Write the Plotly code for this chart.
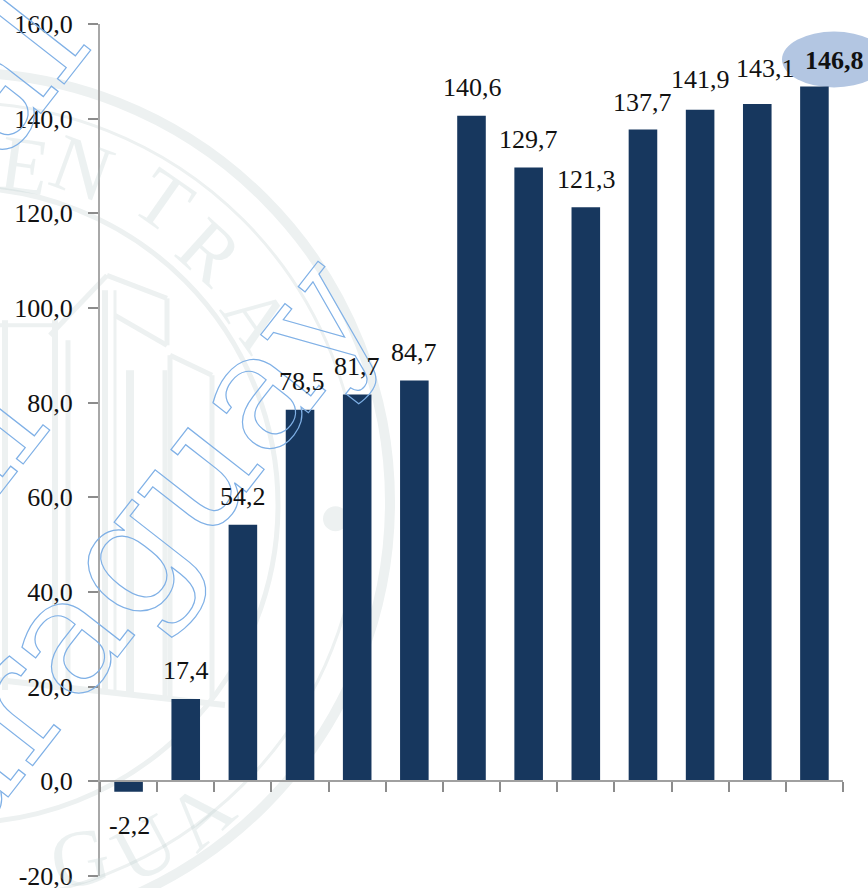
import plotly.graph_objects as go

# ---- data ----
periods = ["P01", "P02", "P03", "P04", "P05", "P06", "P07", "P08", "P09", "P10", "P11", "P12", "P13"]
values = [-2.2, 17.4, 54.2, 78.5, 81.7, 84.7, 140.6, 129.7, 121.3, 137.7, 141.9, 143.1, 146.8]
value_labels = ["-2,2", "17,4", "54,2", "78,5", "81,7", "84,7", "140,6", "129,7", "121,3", "137,7", "141,9", "143,1", "146,8"]
y_ticks = [-20, 0, 20, 40, 60, 80, 100, 120, 140, 160]
y_tick_labels = ["-20,0", "0,0", "20,0", "40,0", "60,0", "80,0", "100,0", "120,0", "140,0", "160,0"]
label_dx = [1, 0, 0, 2, 0, 0, 1, 0, 1, 0, 0, 8, 20]
label_dy = [-34, 28, 28, 28, 28, 28, 28, 28, 28, 27, 30, 35, 26]

W, H = 868, 895
L, R, T, B = 100, 25, 23.5, 19
PW, PH = W - L - R, H - T - B
SEAL = "#edf1f1"
SEAL_TEXT = "rgba(185,203,203,0.27)"
FONT = "Liberation Serif"


def px(x):
    return (x - L) / PW


def py(y):
    return (H - B - y) / PH


shapes = []


def ring(cx, cy, r, width, color=SEAL):
    shapes.append(dict(type="circle", xref="paper", yref="paper", layer="below",
                       x0=px(cx - r), x1=px(cx + r), y0=py(cy + r), y1=py(cy - r),
                       line=dict(color=color, width=width)))


def seg(x0, y0, x1, y1, width=5):
    shapes.append(dict(type="line", xref="paper", yref="paper", layer="below",
                       x0=px(x0), x1=px(x1), y0=py(y0), y1=py(y1),
                       line=dict(color=SEAL, width=width)))


# seal watermark
ring(-40, 502, 430, 10)
ring(-40, 502, 400, 3)
ring(-40, 505, 318, 5)
shapes.append(dict(type="circle", xref="paper", yref="paper", layer="below",
                   x0=px(323), x1=px(348), y0=py(531), y1=py(506),
                   fillcolor=SEAL, line=dict(width=0)))
for s in [
    (5, 320, 5, 690, 6), (55, 320, 55, 690, 6), (68, 340, 68, 690, 5), (105, 290, 105, 690, 6),
    (115, 290, 115, 690, 3), (130, 370, 130, 695, 8), (165, 370, 165, 700, 5), (170, 355, 170, 700, 5),
    (212, 375, 212, 700, 5), (50, 335, 107, 275, 5), (107, 275, 167, 298, 5), (167, 298, 167, 345, 5),
    (115, 315, 167, 345, 5), (170, 355, 212, 375, 5), (0, 680, 225, 705, 6), (0, 325, 55, 325, 4),
]:
    seg(*s)

annotations = []


def seal_letter(text, x, y, angle, size=80):
    annotations.append(dict(text=text, xref="paper", yref="paper", x=px(x), y=py(y),
                            xanchor="center", yanchor="middle", showarrow=False, textangle=angle,
                            font=dict(family=FONT, size=size, color=SEAL_TEXT)))


for t, x, y, a in [("E", 24, 165, 8), ("N", 82, 168, 20), ("T", 163, 200, 35), ("R", 210, 252, 42),
                   ("A", 257, 318, 55), ("A", 200, 815, -42), ("U", 145, 848, -28), ("G", 80, 858, -12)]:
    seal_letter(t, x, y, a)

# outlined diagonal watermark text
for t, x, y in [("Paraguay", 100, 587), ("Central", -185, 638), ("Central", -144, 258)]:
    annotations.append(dict(text=t, xref="paper", yref="paper", x=px(x), y=py(y),
                            xanchor="center", yanchor="middle", showarrow=False, textangle=-52,
                            font=dict(family="DejaVu Serif", size=165, color="rgba(255,255,255,0)")))

# value labels
for i, (p, v, lab) in enumerate(zip(periods, values, value_labels)):
    bold = i == len(values) - 1
    annotations.append(dict(text=f"<b>{lab}</b>" if bold else lab, x=p, y=v, xref="x", yref="y",
                            xanchor="center", yanchor="middle", showarrow=False,
                            xshift=label_dx[i], yshift=label_dy[i],
                            font=dict(family=FONT, size=26, color="#111111")))

# highlight oval
shapes.append(dict(type="circle", xref="paper", yref="paper", layer="below",
                   x0=px(782), x1=px(886), y0=py(87), y1=py(31),
                   fillcolor="#b3c6e2", line=dict(width=0)))

fig = go.Figure(go.Bar(x=periods, y=values, marker=dict(color="#17375e", line=dict(width=0)), width=0.5))
fig.update_layout(
    width=W, height=H, autosize=False,
    margin=dict(l=L, r=R, t=T, b=B, pad=0),
    paper_bgcolor="white", plot_bgcolor="rgba(0,0,0,0)",
    showlegend=False, shapes=shapes, annotations=annotations,
    font=dict(family=FONT, size=25, color="#111111"),
    xaxis=dict(type="category", categoryorder="array", categoryarray=periods, tickson="boundaries",
               range=[-0.5, len(periods) - 0.5], automargin=False,
               anchor="free", position=20 / 180, showline=True, linecolor="#a0a0a0", linewidth=2,
               ticks="outside", ticklen=10, tickcolor="#8c8c8c", tickwidth=1.5, showticklabels=False,
               showgrid=False, zeroline=False),
    yaxis=dict(range=[-20, 160], tickmode="array", tickvals=y_ticks, ticktext=y_tick_labels, automargin=False,
               showline=True, linecolor="#a8a8a8", linewidth=2, ticks="outside", ticklen=10,
               tickcolor="#8c8c8c", tickwidth=1.5, showgrid=False, zeroline=False, ticklabelstandoff=10,
               tickfont=dict(family=FONT, size=26, color="#111111")),
)

post = """
document.documentElement.style.overflow='hidden';
document.body.style.margin='0';
document.body.style.overflow='hidden';
document.querySelectorAll('.annotation-text').forEach(function(t){
  if (/Paraguay|Central/.test(t.textContent)) {
    t.style.setProperty('fill','none','important');
    t.style.setProperty('stroke','#7fb0e6','important');
    t.style.setProperty('stroke-width','1.2px','important');
    t.style.setProperty('stroke-opacity','1','important');
  }
});
"""
fig.write_html("out.html", post_script=post, config={"displayModeBar": False})
